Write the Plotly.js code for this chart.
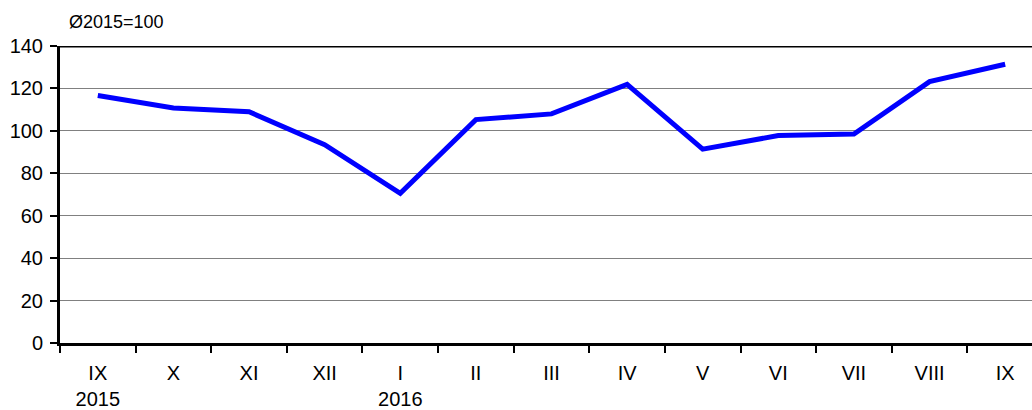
<!DOCTYPE html>
<html>
<head>
<meta charset="utf-8">
<script src="https://cdn.plot.ly/plotly-3.0.1.min.js"></script>
<style>
html,body{margin:0;padding:0;background:#fff;overflow:hidden;}
#chart{width:1032px;height:410px;}
</style>
</head>
<body>
<div id="chart"></div>
<script>
const months = ["IX","X","XI","XII","I","II","III","IV","V","VI","VII","VIII","IX"];
const years = ["2015","","","","2016","","","","","","","",""];
const categories = ["IX 2015","X 2015","XI 2015","XII 2015","I 2016","II 2016","III 2016","IV 2016","V 2016","VI 2016","VII 2016","VIII 2016","IX 2016"];
const values = [116.7,110.8,109.0,93.5,70.6,105.3,108.0,121.9,91.4,97.8,98.5,123.2,131.4];
const unitLabel = "Ø2015=100";
const yTicks = [0,20,40,60,80,100,120,140];

const tickText = months.map((m,i) => years[i] ? m + "<br>" + years[i] : m);

const trace = {
  x: categories,
  y: values,
  type: "scatter",
  mode: "lines",
  line: {color: "#0000FF", width: 5},
  hoverinfo: "skip"
};

const layout = {
  width: 1032,
  height: 410,
  margin: {l: 60, r: 0, t: 46, b: 67},
  paper_bgcolor: "#ffffff",
  plot_bgcolor: "#ffffff",
  showlegend: false,
  font: {family: "Liberation Sans, Arial, sans-serif", color: "#000", size: 20},
  xaxis: {
    type: "category",
    range: [-0.5, 12.355],
    tickmode: "array",
    tickvals: categories,
    ticktext: tickText,
    tickson: "boundaries",
    ticks: "outside",
    ticklen: 7,
    tickwidth: 2,
    tickcolor: "#000",
    showline: true,
    linecolor: "#000",
    linewidth: 3,
    showgrid: false,
    zeroline: false,
    ticklabelstandoff: 10,
    tickfont: {size: 20},
    fixedrange: true
  },
  yaxis: {
    range: [0, 140],
    tickvals: yTicks,
    ticks: "outside",
    ticklen: 7,
    tickwidth: 2,
    tickcolor: "#000",
    showline: true,
    linecolor: "#000",
    linewidth: 3,
    showgrid: true,
    gridcolor: "#808080",
    gridwidth: 1,
    zeroline: false,
    ticklabelstandoff: 3,
    tickfont: {size: 20},
    fixedrange: true
  },
  shapes: [{
    type: "line", xref: "paper", yref: "y",
    x0: 0, x1: 1, y0: 140, y1: 140,
    line: {color: "#000", width: 3}
  }],
  annotations: [{
    text: unitLabel,
    xref: "paper", yref: "paper",
    x: 0.007, y: 1,
    xanchor: "left", yanchor: "bottom",
    yshift: 12,
    showarrow: false,
    font: {size: 18, color: "#000"}
  }]
};

Plotly.newPlot("chart", [trace], layout, {displayModeBar: false, staticPlot: true});
</script>
</body>
</html>
